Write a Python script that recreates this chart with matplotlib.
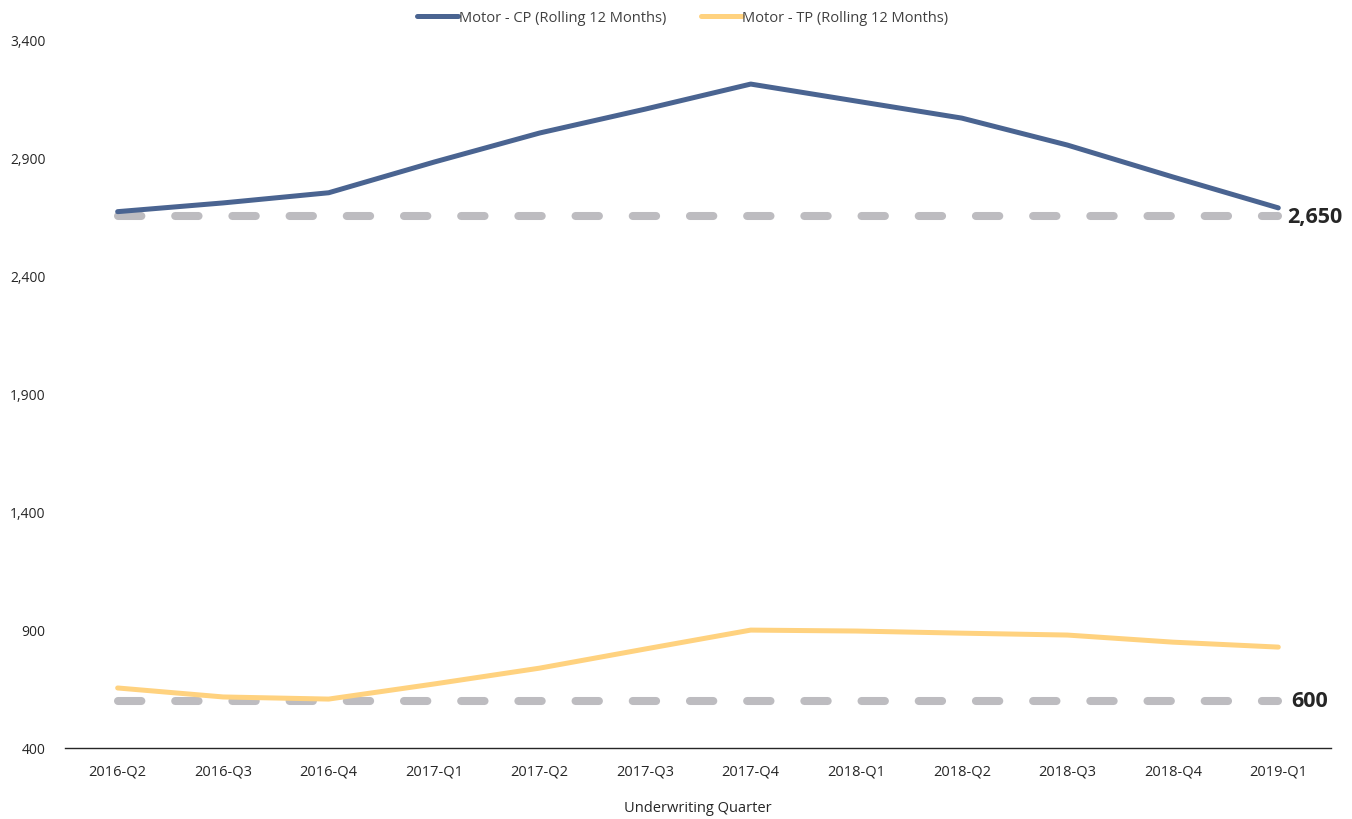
import matplotlib
matplotlib.use("Agg")
import matplotlib.pyplot as plt
from matplotlib.ticker import FuncFormatter

# Data
quarters = ["2016-Q2", "2016-Q3", "2016-Q4", "2017-Q1", "2017-Q2", "2017-Q3",
            "2017-Q4", "2018-Q1", "2018-Q2", "2018-Q3", "2018-Q4", "2019-Q1"]
motor_cp = [2670, 2707, 2750, 2880, 3003, 3104, 3210, 3138, 3066, 2952, 2817, 2686]
motor_tp = [654, 616, 607, 671, 738, 819, 899, 895, 886, 878, 848, 827]
cp_target = 2650
tp_target = 600
y_ticks = [400, 900, 1400, 1900, 2400, 2900, 3400]

COLOR_CP = "#4a6491"
COLOR_TP = "#ffd27f"
COLOR_REF = "#bdbcc0"

plt.rcParams["font.family"] = ["Open Sans", "DejaVu Sans"]

fig = plt.figure(figsize=(13.52, 8.2), dpi=100)
ax = fig.add_axes([0.048, 0.0866, 0.9365, 0.8644])

x = list(range(len(quarters)))

# dashed reference lines (drawn under the series)
for val in (cp_target, tp_target):
    ref, = ax.plot([0, len(quarters) - 1], [val, val], color=COLOR_REF,
                   linewidth=5.8, dash_capstyle="round", zorder=1)
    ref.set_dashes((2.9, 4.2))

ax.plot(x, motor_cp, color=COLOR_CP, linewidth=3.6, solid_capstyle="round",
        label="Motor - CP (Rolling 12 Months)", zorder=3)
ax.plot(x, motor_tp, color=COLOR_TP, linewidth=3.6, solid_capstyle="round",
        label="Motor - TP (Rolling 12 Months)", zorder=3)

# end labels of reference lines
ax.text(len(quarters) - 1 + 0.085, cp_target, "{:,}".format(cp_target), fontsize=15.5,
        fontweight="bold", color="#262626", va="center", ha="left", clip_on=False)
ax.text(len(quarters) - 1 + 0.12, tp_target, "{:,}".format(tp_target), fontsize=15.5,
        fontweight="bold", color="#262626", va="center", ha="left", clip_on=False)

ax.set_xlim(-0.5, len(quarters) - 0.5)
ax.set_ylim(400, 3400)
ax.set_xticks(x)
ax.set_xticklabels(quarters, fontsize=10.5, color="#262626")
ax.set_yticks(y_ticks)
ax.yaxis.set_major_formatter(FuncFormatter(lambda v, p: "{:,}".format(int(v))))
ax.tick_params(axis="y", length=0, pad=14, labelsize=10, labelcolor="#262626")
ax.tick_params(axis="x", length=0, pad=11)

for side in ("top", "right", "left"):
    ax.spines[side].set_visible(False)
ax.spines["bottom"].set_color("#262626")
ax.spines["bottom"].set_linewidth(1.0)

ax.set_xlabel("Underwriting Quarter", fontsize=10.5, color="#262626", labelpad=16)

ax.legend(loc="upper center", bbox_to_anchor=(0.488, 1.06), ncol=2, frameon=False,
          fontsize=10.5, handlelength=2.8, handletextpad=0.05, columnspacing=2.4,
          labelcolor="#404040")

fig.savefig("out.png", dpi=100)
